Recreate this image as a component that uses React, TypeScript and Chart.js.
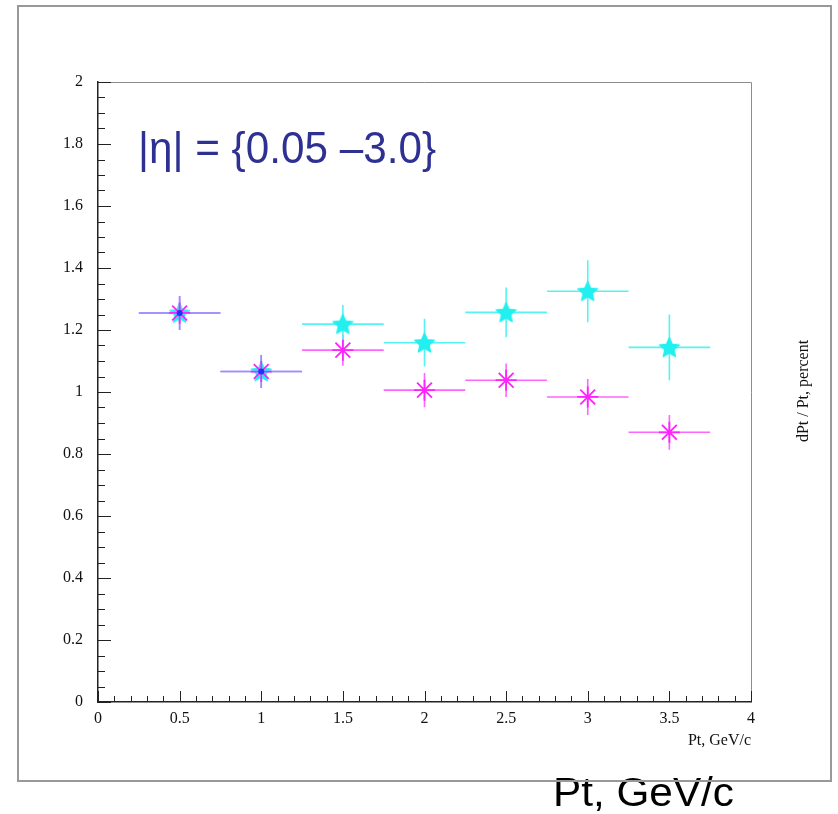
import React, { useEffect, useRef } from 'react';
import { Chart, registerables } from 'chart.js';

Chart.register(...registerables);

// ---- data ----
const X_CENTERS = [0.5, 1.0, 1.5, 2.0, 2.5, 3.0, 3.5];
const X_HALF_WIDTHS = [0.25, 0.25, 0.25, 0.25, 0.25, 0.25, 0.25];
const MAGENTA_VALUES = [1.255, 1.066, 1.135, 1.006, 1.038, 0.984, 0.87];
const MAGENTA_ERRORS = [0.055, 0.053, 0.05, 0.055, 0.054, 0.058, 0.056];
const CYAN_VALUES = [1.255, 1.066, 1.219, 1.159, 1.257, 1.325, 1.144];
const CYAN_ERRORS = [0.055, 0.053, 0.062, 0.077, 0.08, 0.1, 0.106];

const X_MIN = 0;
const X_MAX = 4;
const X_STEP = 0.5;
const Y_MIN = 0;
const Y_MAX = 2;
const Y_STEP = 0.2;

const ANNOTATION = '|\u03B7| = {0.05 \u20133.0}';
const X_TITLE = 'Pt, GeV/c';
const Y_TITLE = 'dPt / Pt, percent';
const BOTTOM_LABEL = 'Pt, GeV/c';

const CYAN = '#22f0f0';
const CYAN_BAR = '#55f4f4';
const MAGENTA = '#ff22ff';
const MAGENTA_BAR = '#ff66ff';
const OVERLAP_BAR = '#a08cff';

function makeStar(color: string, r: number): HTMLCanvasElement {
  const c = document.createElement('canvas');
  const s = Math.ceil(r * 2 + 2);
  c.width = s;
  c.height = s;
  const g = c.getContext('2d')!;
  g.fillStyle = color;
  g.strokeStyle = color;
  g.lineWidth = 1.2;
  g.lineJoin = 'round';
  g.beginPath();
  const cx = s / 2;
  const cy = s / 2 + r * 0.08;
  for (let i = 0; i < 10; i++) {
    const ang = -Math.PI / 2 + (i * Math.PI) / 5;
    const rr = i % 2 === 0 ? r : r * 0.47;
    const px = cx + rr * Math.cos(ang);
    const py = cy + rr * Math.sin(ang);
    if (i === 0) g.moveTo(px, py);
    else g.lineTo(px, py);
  }
  g.closePath();
  g.fill();
  g.stroke();
  return c;
}

function drawFitted(
  ctx: CanvasRenderingContext2D,
  text: string,
  x: number,
  baseline: number,
  width: number,
  font: string,
  color: string
) {
  ctx.save();
  ctx.font = font;
  ctx.fillStyle = color;
  ctx.textAlign = 'left';
  ctx.textBaseline = 'alphabetic';
  const m = ctx.measureText(text).width;
  ctx.translate(x, baseline);
  ctx.scale(width / m, 1);
  ctx.fillText(text, 0, 0);
  ctx.restore();
}

const decorPlugin = {
  id: 'decor',
  beforeDatasetsDraw(chart: any) {
    const { ctx, chartArea: a, scales } = chart;
    const x = scales.x;
    const y = scales.y;
    ctx.save();
    // top and right frame
    ctx.strokeStyle = '#8c8c8c';
    ctx.lineWidth = 1;
    ctx.beginPath();
    ctx.moveTo(a.left, a.top + 0.5);
    ctx.lineTo(a.right + 0.5, a.top + 0.5);
    ctx.lineTo(a.right + 0.5, a.bottom);
    ctx.stroke();

    // inward ticks
    ctx.strokeStyle = '#222';
    ctx.lineWidth = 1;
    ctx.beginPath();
    const ySteps = Math.round((Y_MAX - Y_MIN) / 0.05);
    for (let i = 0; i <= ySteps; i++) {
      const v = Y_MIN + i * 0.05;
      const py = Math.round(y.getPixelForValue(v)) + 0.5;
      const len = i % 4 === 0 ? 13 : 7;
      ctx.moveTo(a.left, py);
      ctx.lineTo(a.left + len, py);
    }
    const xSteps = Math.round((X_MAX - X_MIN) / 0.1);
    for (let i = 0; i <= xSteps; i++) {
      const v = X_MIN + i * 0.1;
      const px = Math.round(x.getPixelForValue(v)) + 0.5;
      const len = i % 5 === 0 ? 11 : 6;
      ctx.moveTo(px, a.bottom);
      ctx.lineTo(px, a.bottom - len);
    }
    ctx.stroke();

    // error bars
    const series = [
      { vals: MAGENTA_VALUES, errs: MAGENTA_ERRORS, color: MAGENTA_BAR, other: CYAN_VALUES },
      { vals: CYAN_VALUES, errs: CYAN_ERRORS, color: CYAN_BAR, other: MAGENTA_VALUES },
    ];
    ctx.lineWidth = 1.6;
    for (const s of series) {
      for (let i = 0; i < X_CENTERS.length; i++) {
        const same = Math.abs(s.vals[i] - s.other[i]) < 1e-9;
        ctx.strokeStyle = same ? OVERLAP_BAR : s.color;
        const px = x.getPixelForValue(X_CENTERS[i]);
        const py = y.getPixelForValue(s.vals[i]);
        const x0 = x.getPixelForValue(X_CENTERS[i] - X_HALF_WIDTHS[i]);
        const x1 = x.getPixelForValue(X_CENTERS[i] + X_HALF_WIDTHS[i]);
        const y0 = y.getPixelForValue(s.vals[i] - s.errs[i]);
        const y1 = y.getPixelForValue(s.vals[i] + s.errs[i]);
        ctx.beginPath();
        ctx.moveTo(x0, py);
        ctx.lineTo(x1, py);
        ctx.moveTo(px, y0);
        ctx.lineTo(px, y1);
        ctx.stroke();
      }
    }
    ctx.restore();
  },
  afterDatasetsDraw(chart: any) {
    const { ctx, scales } = chart;
    ctx.save();
    ctx.fillStyle = '#2030ff';
    for (let i = 0; i < X_CENTERS.length; i++) {
      if (Math.abs(MAGENTA_VALUES[i] - CYAN_VALUES[i]) < 1e-9) {
        const px = scales.x.getPixelForValue(X_CENTERS[i]);
        const py = scales.y.getPixelForValue(CYAN_VALUES[i]);
        ctx.beginPath();
        ctx.arc(px, py, 3, 0, Math.PI * 2);
        ctx.fill();
      }
    }
    ctx.restore();
  },
  afterDraw(chart: any) {
    const { ctx, chartArea: a } = chart;
    ctx.save();
    // x-axis title (small, right aligned)
    ctx.font = '16px "Liberation Serif"';
    ctx.fillStyle = '#111';
    ctx.textAlign = 'right';
    ctx.textBaseline = 'alphabetic';
    ctx.fillText(X_TITLE, a.right, 745);
    // right-side rotated axis title
    ctx.textAlign = 'center';
    ctx.textBaseline = 'middle';
    ctx.translate(804, 391);
    ctx.rotate(-Math.PI / 2);
    ctx.fillText(Y_TITLE, 0, 0);
    ctx.restore();

    drawFitted(ctx, ANNOTATION, 138, 163, 298, '44px "Liberation Sans"', '#2e3192');
    drawFitted(ctx, BOTTOM_LABEL, 553, 806, 181, '41px "Liberation Sans"', '#000');

    // outer frame
    ctx.save();
    ctx.strokeStyle = '#999';
    ctx.lineWidth = 2;
    ctx.beginPath();
    ctx.moveTo(18, 6);
    ctx.lineTo(831, 6);
    ctx.lineTo(831, 781);
    ctx.lineTo(18, 781);
    ctx.closePath();
    ctx.stroke();
    ctx.restore();
  },
};

export default function App() {
  const ref = useRef<HTMLCanvasElement>(null);

  useEffect(() => {
    if (!ref.current) return;
    const starImg = makeStar(CYAN, 10.5);
    const tickFont = { family: '"Liberation Serif"', size: 16 };
    const chart = new Chart(ref.current, {
      type: 'scatter',
      data: {
        datasets: [
          {
            label: 'magenta',
            data: X_CENTERS.map((xv, i) => ({ x: xv, y: MAGENTA_VALUES[i] })),
            pointStyle: 'star',
            radius: 10.5,
            borderColor: MAGENTA,
            backgroundColor: MAGENTA,
            borderWidth: 1.8,
          },
          {
            label: 'cyan',
            data: X_CENTERS.map((xv, i) => ({ x: xv, y: CYAN_VALUES[i] })),
            pointStyle: starImg as any,
            radius: 10.5,
            borderColor: CYAN,
            backgroundColor: CYAN,
          },
        ],
      },
      options: {
        responsive: false,
        animation: false,
        devicePixelRatio: 1,
        layout: { padding: { left: 0, top: 82, right: 87, bottom: 64 } },
        plugins: { legend: { display: false }, tooltip: { enabled: false } },
        scales: {
          x: {
            type: 'linear',
            min: X_MIN,
            max: X_MAX,
            afterFit: (s: any) => {
              s.height = 48;
            },
            grid: { display: false, drawTicks: false },
            border: { display: true, color: '#222', width: 1.5 },
            ticks: {
              stepSize: X_STEP,
              padding: 7,
              color: '#111',
              font: tickFont,
              maxRotation: 0,
              callback: (v: any) => String(Math.round(Number(v) * 10) / 10),
            },
          },
          y: {
            type: 'linear',
            min: Y_MIN,
            max: Y_MAX,
            afterFit: (s: any) => {
              s.width = 98;
            },
            grid: { display: false, drawTicks: false },
            border: { display: true, color: '#222', width: 1.5 },
            ticks: {
              stepSize: Y_STEP,
              padding: 15,
              color: '#111',
              font: tickFont,
              callback: (v: any) => String(Math.round(Number(v) * 10) / 10),
            },
          },
        },
      },
      plugins: [decorPlugin],
    });
    return () => chart.destroy();
  }, []);

  return (
    <div style={{ position: 'absolute', left: 0, top: 0, width: 838, height: 814, background: '#fff' }}>
      <canvas ref={ref} width={838} height={814} style={{ display: 'block' }} />
    </div>
  );
}
